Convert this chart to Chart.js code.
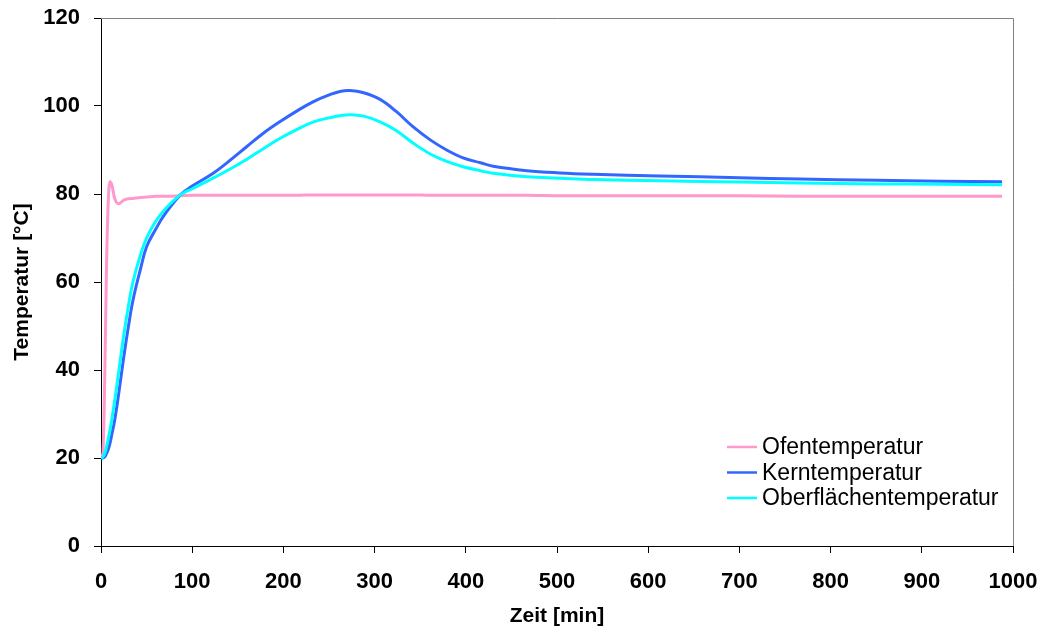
<!DOCTYPE html>
<html>
<head>
<meta charset="utf-8">
<title>Temperaturverlauf</title>
<script src="https://cdn.jsdelivr.net/npm/chart.js@4.4.1/dist/chart.umd.min.js"></script>
<style>
    html, body { margin: 0; padding: 0; background: #fff; }
    #wrap { width: 1041px; height: 632px; position: relative; }
</style>
</head>
<body>
<div id="wrap"><canvas id="tempChart"></canvas></div>
<script>
const zeitMin = [0, 2, 4, 6, 8, 10, 12, 15, 19, 25, 30, 35, 43, 50, 60, 70, 87, 100, 123, 140,
    160, 178, 196, 215, 233, 250, 262, 273, 288, 306, 324, 342, 361, 379, 397, 416, 430, 467,
    503, 540, 613, 700, 766, 850, 920, 988];

const ofenTemp = [20.5, 21, 37, 63, 78.6, 82.8, 82, 79, 77.8, 78.6, 78.9, 79, 79.2, 79.3, 79.5,
    79.5, 79.6, 79.7, 79.7, 79.7, 79.7, 79.7, 79.7, 79.7, 79.8, 79.8, 79.8, 79.8, 79.8, 79.8,
    79.8, 79.8, 79.7, 79.7, 79.7, 79.7, 79.7, 79.7, 79.6, 79.6, 79.6, 79.6, 79.5, 79.5, 79.5, 79.5];

const kernTemp = [20, 20, 20.2, 21, 22, 23.5, 25.5, 28.6, 34, 43, 49.8, 55.8, 62.7, 68, 72, 75.4,
    79.8, 81.8, 84.7, 87.4, 90.8, 93.8, 96.4, 98.9, 101, 102.5, 103.3, 103.5, 103, 101.5, 98.7,
    95.3, 92.3, 90, 88.2, 87.1, 86.3, 85.3, 84.8, 84.5, 84.1, 83.7, 83.4, 83.1, 82.9, 82.8];

const oberTemp = [20, 20.2, 21, 22.5, 24.5, 26.5, 29, 33, 39, 48, 54.5, 60, 66, 70, 73.8, 76.5,
    79.8, 81.2, 83.6, 85.5, 87.9, 90.3, 92.6, 94.7, 96.4, 97.3, 97.8, 98, 97.7, 96.4, 94.4,
    91.6, 89.1, 87.4, 86.2, 85.3, 84.7, 83.9, 83.6, 83.3, 83, 82.7, 82.5, 82.3, 82.2, 82.1];

const yTicks = [0, 20, 40, 60, 80, 100, 120];
const xTicks = [0, 100, 200, 300, 400, 500, 600, 700, 800, 900, 1000];

const FONT = '"Liberation Sans", Arial, sans-serif';

function toPoints(values) {
    return zeitMin.map((t, i) => ({ x: t, y: values[i] }));
}

// Graue Rahmenlinie oben/rechts und Legende im Diagrammbereich
const frameAndLegend = {
    id: 'frameAndLegend',
    afterDraw(chart) {
        const ctx = chart.ctx;
        const area = chart.chartArea;
        ctx.save();
        ctx.strokeStyle = '#808080';
        ctx.lineWidth = 1;
        ctx.beginPath();
        ctx.moveTo(area.left, area.top + 0.5);
        ctx.lineTo(area.right + 0.5, area.top + 0.5);
        ctx.lineTo(area.right + 0.5, area.bottom);
        ctx.stroke();

        // legend
        const lineX0 = 727, lineX1 = 757, textX = 762;
        const rowY = [447, 472.5, 498];
        ctx.font = '23px ' + FONT;
        ctx.textBaseline = 'middle';
        ctx.fillStyle = '#000';
        chart.data.datasets.forEach((ds, i) => {
            ctx.strokeStyle = ds.borderColor;
            ctx.lineWidth = 2.5;
            ctx.beginPath();
            ctx.moveTo(lineX0, rowY[i]);
            ctx.lineTo(lineX1, rowY[i]);
            ctx.stroke();
            ctx.fillText(ds.label, textX, rowY[i] + 1);
        });
        ctx.restore();
    }
};

const ctx = document.getElementById('tempChart').getContext('2d');
new Chart(ctx, {
    type: 'line',
    data: {
        datasets: [{
            label: 'Ofentemperatur',
            data: toPoints(ofenTemp),
            borderColor: '#FF99CC',
            borderWidth: 3,
            pointRadius: 0,
            cubicInterpolationMode: 'monotone',
            order: 2
        }, {
            label: 'Kerntemperatur',
            data: toPoints(kernTemp),
            borderColor: '#3366FF',
            borderWidth: 3,
            pointRadius: 0,
            tension: 0.4,
            order: 1
        }, {
            label: 'Oberflächentemperatur',
            data: toPoints(oberTemp),
            borderColor: '#00FFFF',
            borderWidth: 3,
            pointRadius: 0,
            tension: 0.4,
            order: 0
        }]
    },
    options: {
        responsive: true,
        maintainAspectRatio: false,
        animation: false,
        layout: { padding: { top: 18, right: 28, left: 0, bottom: 0 } },
        plugins: {
            legend: { display: false },
            tooltip: { enabled: false }
        },
        scales: {
            x: {
                type: 'linear',
                min: 0,
                max: 1000,
                afterBuildTicks: scale => { scale.ticks = xTicks.map(v => ({ value: v })); },
                afterFit: scale => {
                    scale.height = 86;
                    scale.paddingLeft = 0;
                    scale.paddingRight = 0;
                },
                grid: { drawOnChartArea: false, tickLength: 7, color: '#000' },
                border: { color: '#000', width: 1 },
                ticks: {
                    color: '#000',
                    padding: 16,
                    maxRotation: 0,
                    font: { family: FONT, size: 22, weight: 'bold' },
                    callback: v => String(v)
                },
                title: {
                    display: true,
                    text: 'Zeit [min]',
                    color: '#000',
                    padding: { top: 0, bottom: 3 },
                    font: { family: FONT, size: 21, weight: 'bold' }
                }
            },
            y: {
                min: 0,
                max: 120,
                afterBuildTicks: scale => { scale.ticks = yTicks.map(v => ({ value: v })); },
                afterFit: scale => {
                    scale.width = 101;
                    scale.paddingTop = 0;
                    scale.paddingBottom = 0;
                },
                grid: { drawOnChartArea: false, tickLength: 7, color: '#000' },
                border: { color: '#000', width: 1 },
                ticks: { color: '#000', padding: 14, font: { family: FONT, size: 22, weight: 'bold' } },
                title: {
                    display: true,
                    text: 'Temperatur [°C]',
                    color: '#000',
                    padding: { top: 10, bottom: 0 },
                    font: { family: FONT, size: 21, weight: 'bold' }
                }
            }
        }
    },
    plugins: [frameAndLegend]
});
</script>
</body>
</html>
